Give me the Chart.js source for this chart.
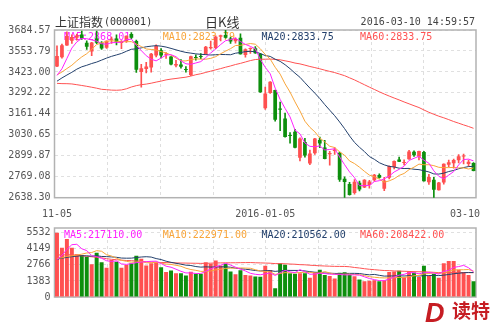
<!DOCTYPE html>
<html>
<head>
<meta charset="utf-8">
<script src="https://cdn.jsdelivr.net/npm/chart.js@4.4.1/dist/chart.umd.min.js"></script>
<style>
  html, body { margin: 0; padding: 0; background: #fff; }
  #wrap { position: relative; width: 500px; height: 326px; }
  #wrap canvas { position: absolute; left: 0; top: 0; }
</style>
</head>
<body>
<div id="wrap">
  <canvas id="kline" width="500" height="326"></canvas>
  <canvas id="volume" width="500" height="326"></canvas>
</div>
<script>
// 上证指数 daily bars, 2015-11-05 .. 2016-03-10
const dates = [
  '2015-11-05','2015-11-06','2015-11-09','2015-11-10','2015-11-11','2015-11-12','2015-11-13','2015-11-16','2015-11-17','2015-11-18',
  '2015-11-19','2015-11-20','2015-11-23','2015-11-24','2015-11-25','2015-11-26','2015-11-27','2015-11-30','2015-12-01','2015-12-02',
  '2015-12-03','2015-12-04','2015-12-07','2015-12-08','2015-12-09','2015-12-10','2015-12-11','2015-12-14','2015-12-15','2015-12-16',
  '2015-12-17','2015-12-18','2015-12-21','2015-12-22','2015-12-23','2015-12-24','2015-12-25','2015-12-28','2015-12-29','2015-12-30',
  '2015-12-31','2016-01-04','2016-01-05','2016-01-06','2016-01-07','2016-01-08','2016-01-11','2016-01-12','2016-01-13','2016-01-14',
  '2016-01-15','2016-01-18','2016-01-19','2016-01-20','2016-01-21','2016-01-22','2016-01-25','2016-01-26','2016-01-27','2016-01-28',
  '2016-01-29','2016-02-01','2016-02-02','2016-02-03','2016-02-04','2016-02-05','2016-02-15','2016-02-16','2016-02-17','2016-02-18',
  '2016-02-19','2016-02-22','2016-02-23','2016-02-24','2016-02-25','2016-02-26','2016-02-29','2016-03-01','2016-03-02','2016-03-03',
  '2016-03-04','2016-03-07','2016-03-08','2016-03-09','2016-03-10'
];
const opens = [
  3456.86,3514.45,3588.50,3617.13,3636.90,3656.92,3604.76,3550.44,3630.87,3605.06,
  3573.78,3623.43,3630.87,3602.89,3614.05,3659.57,3616.48,3423.00,3441.44,3450.21,
  3525.73,3558.15,3529.81,3518.65,3462.58,3469.81,3441.60,3403.51,3510.50,3522.09,
  3533.63,3570.48,3573.04,3643.02,3653.28,3631.31,3614.05,3635.77,3528.40,3566.73,
  3570.47,3536.59,3196.65,3291.20,3309.66,3194.63,3131.85,3026.32,3050.32,2887.25,
  2986.09,2852.21,2915.99,2998.04,2951.62,2908.96,2929.05,2919.52,2756.15,2723.47,
  2668.07,2730.80,2701.63,2717.82,2747.21,2780.46,2693.64,2762.15,2829.76,2875.92,
  2854.39,2877.50,2925.28,2893.72,2924.14,2735.32,2750.61,2685.49,2733.44,2844.05,
  2853.38,2872.72,2895.82,2848.34,2855.34
];
const highs = [
  3585.66,3596.38,3673.76,3654.51,3659.32,3678.27,3617.32,3608.06,3678.53,3612.15,
  3617.32,3640.53,3654.75,3618.23,3648.37,3668.38,3621.90,3470.37,3483.41,3538.85,
  3591.73,3568.97,3543.95,3518.65,3495.70,3500.41,3456.90,3521.78,3529.96,3538.03,
  3583.41,3615.97,3647.76,3653.07,3684.57,3640.22,3635.26,3659.95,3566.73,3573.68,
  3580.60,3538.69,3328.14,3362.97,3309.66,3235.45,3166.22,3044.22,3065.45,3011.30,
  3009.06,2935.26,3008.98,3016.48,2995.79,2926.95,2951.42,2923.18,2768.11,2734.22,
  2750.80,2742.22,2751.04,2746.25,2783.80,2786.59,2765.66,2837.46,2868.70,2891.09,
  2874.19,2933.96,2931.03,2929.17,2928.36,2784.87,2764.79,2734.42,2849.68,2873.61,
  2878.78,2907.55,2910.88,2872.44,2858.07
];
const lows = [
  3455.45,3508.71,3588.50,3600.40,3620.81,3625.53,3564.04,3524.75,3598.91,3563.53,
  3568.97,3600.08,3590.88,3568.62,3607.50,3629.86,3419.32,3327.81,3416.82,3422.18,
  3517.23,3510.41,3506.62,3466.79,3454.87,3446.27,3421.79,3399.28,3496.85,3506.29,
  3533.63,3565.18,3568.05,3617.10,3633.04,3600.37,3601.74,3533.78,3515.52,3538.11,
  3538.35,3295.74,3189.60,3288.93,3115.89,3056.88,3016.70,2978.15,2949.60,2867.55,
  2891.65,2844.70,2908.42,2951.03,2880.48,2840.84,2908.24,2739.26,2638.30,2653.39,
  2661.07,2680.53,2701.63,2697.31,2741.11,2759.74,2682.09,2755.15,2818.54,2862.55,
  2843.37,2877.50,2895.18,2874.50,2741.25,2721.36,2638.96,2684.71,2722.91,2829.63,
  2822.29,2855.62,2849.31,2835.25,2804.73
];
const closes = [
  3522.82,3590.03,3646.88,3640.49,3650.25,3632.90,3580.84,3606.96,3604.80,3568.47,
  3617.06,3630.50,3610.31,3616.11,3647.93,3635.55,3436.30,3445.40,3456.31,3536.91,
  3584.82,3524.99,3536.93,3470.07,3472.44,3455.50,3434.58,3520.67,3510.35,3516.19,
  3580.00,3578.96,3642.47,3651.77,3636.09,3612.49,3627.91,3533.78,3563.74,3572.88,
  3539.18,3296.26,3287.71,3361.84,3125.00,3186.41,3016.70,3022.86,2949.60,3007.65,
  2900.97,2913.84,3007.74,2976.69,2880.48,2916.56,2938.51,2749.79,2735.56,2655.66,
  2737.60,2688.85,2749.57,2739.25,2781.02,2763.49,2746.20,2836.57,2867.34,2862.89,
  2860.02,2927.18,2903.33,2928.90,2741.25,2767.21,2687.98,2733.17,2849.68,2859.50,
  2874.15,2897.34,2901.39,2862.56,2804.73
];
const volumes = [
  5532,4240,4990,4240,3670,3610,3470,2810,3810,2980,
  2520,3180,3040,2520,2750,2900,3550,3300,2700,2900,
  2950,2550,2150,2270,2040,2040,1850,2180,2010,2010,
  2990,2850,3130,2700,2850,2200,1950,2300,1900,1850,
  1760,1750,2690,2320,750,2910,2770,2040,2000,2040,
  2040,1660,2120,2350,1900,1800,1600,2080,2130,1930,
  1780,1500,1350,1400,1450,1350,1450,2150,2200,2250,
  1700,2200,2100,1725,2690,1800,2000,1650,2900,3090,
  3100,2350,2150,1900,1355
];
// sessions before the window (2015-08-05 .. 2015-11-04), only feed the averages
const priorCloses = [
  3694.57,3661.54,3744.20,3928.42,3927.91,3886.32,3954.56,3965.34,3993.67,3748.16,
  3794.11,3664.29,3507.74,3209.91,2964.97,2927.29,3083.59,3232.35,3205.99,
  3166.62,3160.17,3080.42,3170.45,3243.09,3197.89,3200.23,3114.80,3005.17,3152.26,
  3086.06,3097.92,3156.54,3185.62,3115.89,3142.69,3092.35,3100.76,3038.14,3052.78,
  3143.36,3183.15,3287.66,3293.23,3262.44,3338.07,3391.35,3386.70,3425.33,3320.68,
  3368.74,3412.43,3429.58,3434.34,3375.20,3387.32,3382.56,3325.08,3316.70,3459.64
];
const priorVolumes = [
  4800,4000,4000,6200,6600,5900,5300,6600,5700,7000,6300,5200,4700,4500,3900,5300,4900,5300,4200,
  4100,3600,2500,2500,3500,2600,2200,2800,2300,2700,2600,2100,2100,2400,2300,2000,2000,1600,1700,1500,
  2900,2500,3500,3100,2800,2900,3600,3400,3100,4200,2800,3700,3700,3800,3000,2800,2500,2400,2200,3500
];

const priceTicks = [3684.57, 3553.79, 3423.00, 3292.22, 3161.44, 3030.65, 2899.87, 2769.08, 2638.30];
const volumeTicks = [0, 1383, 2766, 4149, 5532];
const maPeriods = [5, 10, 20, 60];
const priceMaText = ['MA5:2868.01', 'MA10:2823.79', 'MA20:2833.75', 'MA60:2833.75'];
const volumeMaText = ['MA5:217110.00', 'MA10:222971.00', 'MA20:210562.00', 'MA60:208422.00'];
const xTickDates = ['2015-11-05', '2016-01-05', '2016-03-10'];
const xTickText = ['11-05', '2016-01-05', '03-10'];

const UP = '#ff5050';
const DOWN = '#0d8f0d';
const maColors = ['#ff22ff', '#f8a53a', '#23406c', '#ff5252'];
const MONO = '10px "DejaVu Sans Mono", monospace';
const CJK = '"Noto Sans CJK SC", sans-serif';

function movingAverage(prior, values, n) {
  const all = prior.concat(values);
  return values.map((v, i) => {
    const end = prior.length + i + 1;
    let sum = 0;
    for (let k = end - n; k < end; k++) sum += all[k];
    return sum / n;
  });
}

const candleColors = closes.map((c, i) => (c >= opens[i] ? UP : DOWN));

function dashedColumns(ctx, a) {
  ctx.save();
  ctx.strokeStyle = '#dedede';
  ctx.lineWidth = 1;
  ctx.setLineDash([3, 3]);
  for (let k = 1; k < 8; k++) {
    const x = Math.round(a.left + k * (a.right - a.left) / 8) + 0.5;
    ctx.beginPath();
    ctx.moveTo(x, a.top);
    ctx.lineTo(x, a.bottom);
    ctx.stroke();
  }
  ctx.restore();
}

function frame(ctx, a) {
  ctx.save();
  ctx.strokeStyle = '#b2b2b2';
  ctx.lineWidth = 1.5;
  ctx.strokeRect(a.left, a.top, a.right - a.left, a.bottom - a.top);
  ctx.restore();
}

function legendRow(ctx, a, texts, y) {
  ctx.save();
  ctx.font = MONO;
  ctx.textBaseline = 'middle';
  texts.forEach((t, k) => {
    ctx.fillStyle = maColors[k];
    ctx.fillText(t, a.left + 9.5 + k * 98.7, y);
  });
  ctx.restore();
}

const klinePanel = {
  id: 'klinePanel',
  beforeDatasetsDraw(chart) {
    const { ctx, chartArea: a } = chart;
    dashedColumns(ctx, a);
    frame(ctx, a);
    legendRow(ctx, a, priceMaText, a.top + 7);
  },
  afterDraw(chart) {
    const { ctx, chartArea: a } = chart;
    const x = chart.scales.x;
    ctx.save();
    ctx.textBaseline = 'middle';
    // header
    ctx.fillStyle = '#333';
    ctx.font = '12px ' + CJK;
    ctx.fillText('上证指数', 55, 22);
    const w = ctx.measureText('上证指数').width;
    ctx.font = MONO;
    ctx.fillText('(000001)', 55 + w + 1, 22);
    ctx.font = '13px ' + CJK;
    ctx.fillText('日K线', 205, 22);
    ctx.font = MONO;
    ctx.fillStyle = '#444';
    ctx.textAlign = 'right';
    ctx.fillText('2016-03-10 14:59:57', a.right - 1, 22);
    // date labels between the panels
    ctx.fillStyle = '#555';
    xTickDates.forEach((d, k) => {
      const px = x.getPixelForValue(dates.indexOf(d));
      const last = k === xTickDates.length - 1;
      ctx.textAlign = last ? 'right' : 'center';
      ctx.fillText(xTickText[k], last ? a.right + 4 : px, 214);
    });
    // logo
    ctx.textAlign = 'left';
    ctx.textBaseline = 'alphabetic';
    ctx.fillStyle = '#c61d23';
    ctx.font = 'italic bold 27px "Liberation Sans", sans-serif';
    ctx.fillText('D', 425, 322);
    ctx.font = 'bold 19px ' + CJK;
    ctx.fillText('读特', 452, 318);
    ctx.restore();
  }
};

const volumePanel = {
  id: 'volumePanel',
  beforeDatasetsDraw(chart) {
    const { ctx, chartArea: a } = chart;
    dashedColumns(ctx, a);
    frame(ctx, a);
    legendRow(ctx, a, volumeMaText, a.top + 7);
  }
};

const baseOptions = {
  responsive: false,
  animation: false,
  devicePixelRatio: 1,
  events: [],
  plugins: { legend: { display: false }, tooltip: { enabled: false } }
};

function lineSet(data, k) {
  return {
    type: 'line',
    data: data,
    borderColor: maColors[k],
    borderWidth: 1,
    pointRadius: 0,
    tension: 0,
    fill: false
  };
}

function yAxis(min, max, ticks, fmt, extra) {
  return Object.assign({
    min: min,
    max: max,
    afterBuildTicks: axis => { axis.ticks = ticks.map(v => ({ value: v })); },
    afterFit: axis => { axis.width = 54.5; },
    ticks: { callback: fmt, font: { family: 'DejaVu Sans Mono', size: 10 }, color: '#555', padding: 4 },
    grid: { color: '#e0e0e0', drawTicks: false },
    border: { display: false, dash: [3, 3] }
  }, extra || {});
}

new Chart(document.getElementById('kline'), {
  type: 'bar',
  data: {
    labels: dates,
    datasets: [
      ...maPeriods.map((n, k) => lineSet(movingAverage(priorCloses, closes, n), k)),
      {
        data: dates.map((d, i) => [opens[i], closes[i]]),
        backgroundColor: candleColors,
        barPercentage: 0.75,
        categoryPercentage: 1,
        minBarLength: 1,
        grouped: false
      },
      {
        data: dates.map((d, i) => [lows[i], highs[i]]),
        backgroundColor: candleColors,
        barThickness: 1,
        grouped: false
      }
    ]
  },
  options: Object.assign({}, baseOptions, {
    layout: { padding: { top: 30, right: 24, bottom: 128.3, left: 0 } },
    scales: {
      x: { display: false, offset: true },
      y: yAxis(priceTicks[priceTicks.length - 1], priceTicks[0], priceTicks, v => v.toFixed(2))
    }
  }),
  plugins: [klinePanel]
});

new Chart(document.getElementById('volume'), {
  type: 'bar',
  data: {
    labels: dates,
    datasets: [
      ...maPeriods.map((n, k) => lineSet(movingAverage(priorVolumes, volumes, n), k)),
      {
        data: volumes,
        backgroundColor: candleColors,
        barPercentage: 0.8,
        categoryPercentage: 1,
        grouped: false
      }
    ]
  },
  options: Object.assign({}, baseOptions, {
    layout: { padding: { top: 228, right: 24, bottom: 29, left: 0 } },
    scales: {
      x: { display: false, offset: true },
      y: yAxis(0, 5936, volumeTicks, v => String(v))
    }
  }),
  plugins: [volumePanel]
});
</script>
</body>
</html>
